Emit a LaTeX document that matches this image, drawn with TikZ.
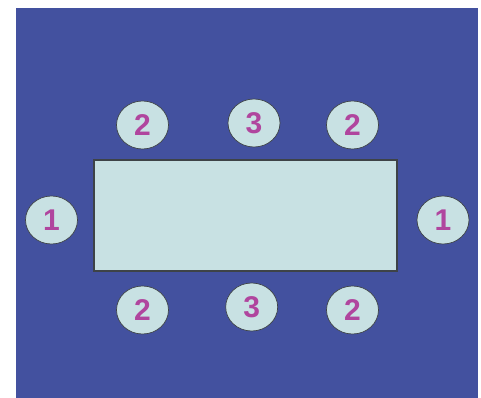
\documentclass[tikz,border=0pt]{standalone}
\usepackage{fontspec}
\setmainfont{Liberation Sans}
\definecolor{bgblue}{HTML}{43519F}
\definecolor{seatfill}{HTML}{C8E1E3}
\definecolor{digit}{HTML}{B0459E}
\definecolor{edge}{HTML}{3E4347}
\tikzset{
  seat/.style={ellipse, draw=edge, line width=0.7pt, fill=seatfill, minimum width=52pt, minimum height=48pt, inner sep=0pt, text=digit, font=\fontsize{30}{30}\selectfont\bfseries},
  tablebox/.style={draw=edge, line width=1.2pt, fill=seatfill}
}
\usetikzlibrary{shapes.geometric}
\begin{document}
\begin{tikzpicture}[x=1pt,y=-1pt]
\useasboundingbox (0,0) rectangle (481,398);
\fill[white] (0,0) rectangle (481,398);
\fill[bgblue] (16,8) rectangle (478,398);
\node[tablebox, minimum width=303pt, minimum height=111pt, inner sep=0pt] (table) at (245.5,215.5) {};
\node[seat] (t1) at (142.5,125) {2};
\node[seat] (t2) at (254,123) {3};
\node[seat] (t3) at (352.5,125) {2};
\node[seat] (l) at (51.5,220) {1};
\node[seat] (r) at (443,220) {1};
\node[seat] (b1) at (142.5,310) {2};
\node[seat] (b2) at (251.7,307) {3};
\node[seat] (b3) at (352.5,310) {2};
\end{tikzpicture}
\end{document}
